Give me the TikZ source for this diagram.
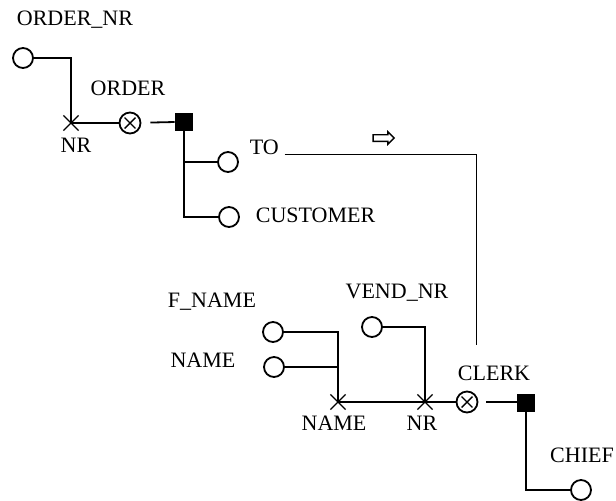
\documentclass[tikz,border=0pt]{standalone}
\usepackage{fontspec}
\setmainfont{Liberation Serif}
\usetikzlibrary{positioning,shapes.misc,shapes.arrows}

\begin{document}
\begin{tikzpicture}[
    x=0.5pt, y=-0.5pt,
    font=\fontsize{11}{13}\selectfont,
    line width=0.9pt,
    attr/.style={circle, draw, minimum size=10pt, inner sep=0pt},
    ent/.style={circle, draw, minimum size=10.5pt, inner sep=0pt,
                path picture={\draw[line width=0.7pt, shift={(path picture bounding box.center)}]
                  (-2.7pt,-2.7pt) -- (2.7pt,2.7pt) (-2.7pt,2.7pt) -- (2.7pt,-2.7pt);}},
    rel/.style={rectangle, draw, fill=black, minimum size=8.5pt, inner sep=0pt},
    key/.style={cross out, draw, line width=0.6pt, minimum size=7pt, inner sep=0pt},
    lbl/.style={inner sep=0pt, anchor=base},
    wire/.style={line width=0.5pt},
  ]
    \useasboundingbox (0,0) rectangle (616,500);

    % --- ORDER with its key ---
    \node[attr] (onr) at (23,58) {};
    \node[lbl] (onrl) at (75,25) {ORDER\_NR};
    \node[key] (knr) at (71,123) {};
    \node[lbl] (knrl) at (76,152) {NR};
    \node[ent] (order) at (130,123) {};
    \node[lbl] (orderl) at (128,95) {ORDER};
    \node[rel] (rord) at (184,122) {};
    \node[attr] (to) at (228,162) {};
    \node[lbl, anchor=base west] (tol) at (249,154) {TO};
    \node[attr] (cust) at (229,217) {};
    \node[lbl, anchor=base west] (custl) at (255,222) {CUSTOMER};

    \draw (onr.east) -| (knr.center);
    \draw (knr.center) -- (order);
    \draw[shorten <=4.5pt] (order) -- (rord.west);
    \draw (rord.south) |- (cust.west);
    \draw (rord.south |- to.west) -- (to.west);

    % --- reference TO -> CLERK ---
    \coordinate (toend) at (476,345);
    \node[single arrow, draw, line width=0.7pt, minimum height=10.5pt,
          single arrow head extend=1.5pt, inner sep=1.3pt] (dir) at (382,138) {};
    \draw[wire] ([xshift=2.5pt]tol.base east) -| (toend);

    % --- CLERK with its keys ---
    \node[attr] (fn) at (273,332) {};
    \node[lbl] (fnl) at (212,307) {F\_NAME};
    \node[attr] (nm) at (274,367) {};
    \node[lbl] (nml) at (203,367) {NAME};
    \node[key] (kname) at (338,402) {};
    \node[lbl] (knamel) at (334,430) {NAME};
    \node[attr] (vnr) at (372,327) {};
    \node[lbl] (vnrl) at (397,298) {VEND\_NR};
    \node[key] (knr2) at (425,402) {};
    \node[lbl] (knr2l) at (422,430) {NR};
    \node[ent] (clerk) at (467,402) {};
    \node[lbl] (clerkl) at (494,380) {CLERK};
    \node[rel] (rclerk) at (526,403) {};
    \node[attr] (chief) at (581,490) {};
    \node[lbl] (chiefl) at (582,462) {CHIEF};

    \draw (fn.east) -| (kname.center);
    \draw (nm.east) -- (nm.east -| kname.center);
    \draw (vnr.east) -| (knr2.center);
    \draw (kname.center) -- (knr2.center) -- (clerk);
    \draw[shorten <=4pt] (clerk) -- (clerk -| rclerk.west);
    \draw (rclerk.south) |- (chief.west);
\end{tikzpicture}
\end{document}
